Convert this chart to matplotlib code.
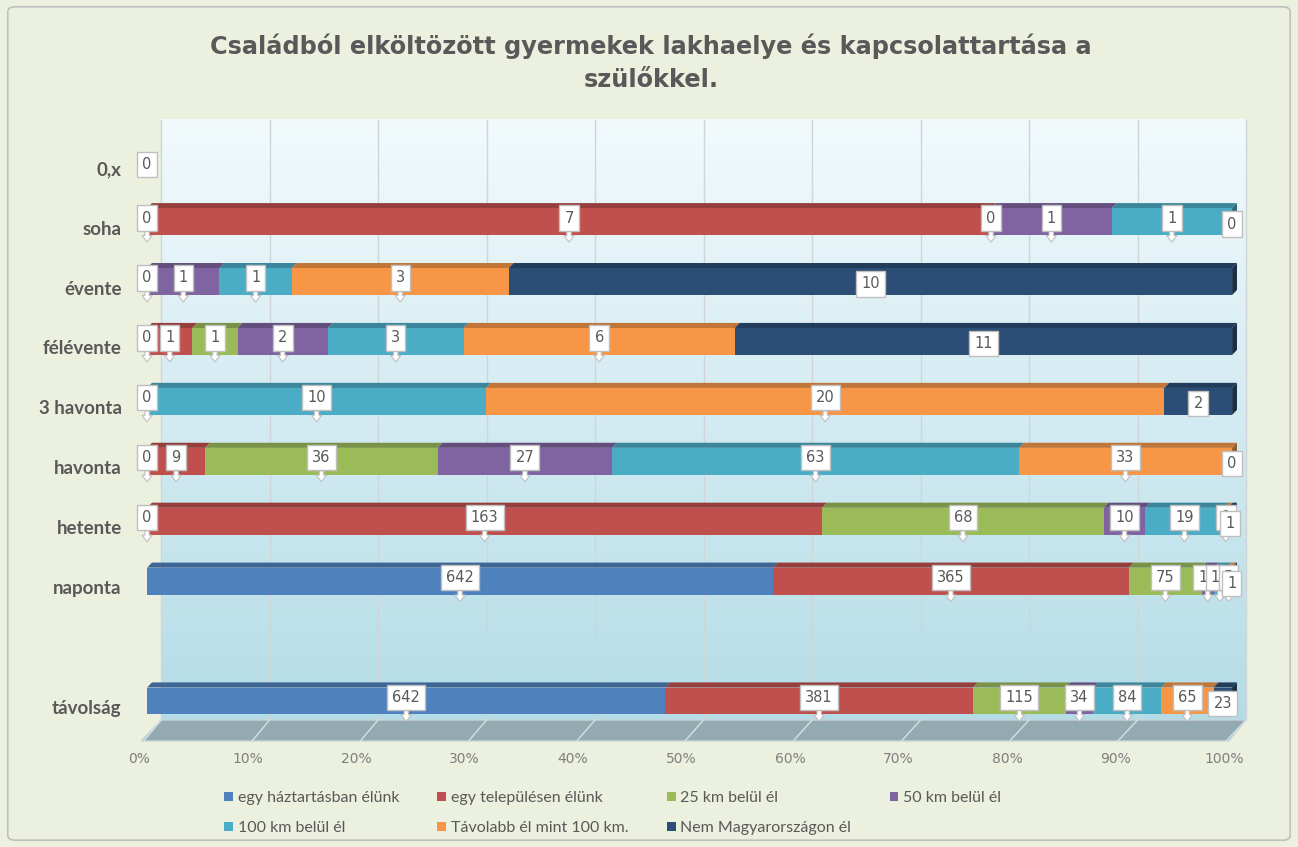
import numpy as np
import matplotlib.pyplot as plt
from matplotlib.patches import Polygon, Patch, FancyBboxPatch
from matplotlib.transforms import ScaledTranslation
from matplotlib.colors import to_rgb

# ---- data ----
categories = ['távolság', '', 'naponta', 'hetente', 'havonta', '3 havonta',
              'félévente', 'évente', 'soha', '0,x']
series = ['egy háztartásban élünk', 'egy településen élünk', '25 km belül él',
          '50 km belül él', '100 km belül él', 'Távolabb él mint 100 km.',
          'Nem Magyarországon él']
nan = np.nan
haztartas = [642, nan, 642, 0, 0, 0, 0, 0, 0, nan]
telepules = [381, nan, 365, 163, 9, nan, 1, nan, 7, nan]
km25 = [115, nan, 75, 68, 36, nan, 1, nan, 0, nan]
km50 = [34, nan, 12, 10, 27, nan, 2, 1, 1, nan]
km100 = [84, nan, 13, 19, 63, 10, 3, 1, 1, nan]
tavolabb = [65, nan, 5, 1, 33, 20, 6, 3, nan, nan]
kulfold = [23, nan, 1, 1, 0, 2, 11, 10, 0, 0]
xticks = np.arange(0, 101, 10)

colors = ['#4F81BD', '#C0504D', '#9BBB59', '#8064A2', '#4BACC6', '#F79646', '#2C4D75']
txt = '#595959'

vals = np.array([haztartas, telepules, km25, km50, km100, tavolabb, kulfold], dtype=float)
totals = np.nansum(vals, axis=0)
pct = np.where(totals > 0, np.nan_to_num(vals) / np.where(totals > 0, totals, 1) * 100, 0)
left = np.vstack([np.zeros(len(categories)), np.cumsum(pct, axis=0)[:-1]])
ypos = np.arange(len(categories))


def darker(c, f=0.75):
    r, g, b = to_rgb(c)
    return (r * f, g * f, b * f)


fig = plt.figure(figsize=(12.98, 8.47), dpi=100)
fig.patch.set_facecolor('#EBF1DE')
fig.patches.append(FancyBboxPatch((0.006, 0.008), 0.988, 0.984, boxstyle='round,pad=0,rounding_size=0.006',
                                  transform=fig.transFigure, fc='none', ec='#BFBFBF', lw=1.2))
ax = fig.add_axes([0.1002, 0.1204, 0.8629, 0.7438])
ax.set_xlim(-1.57, 101.66)
ax.set_ylim(-0.735, 9.78)
ax.set_facecolor('none')
for s in ax.spines.values():
    s.set_visible(False)

# back wall with vertical gradient, gridlines shifted for depth
shift = 1.29
wall_top, wall_bot = 9.70, -0.317
grad = np.linspace(0, 1, 256).reshape(-1, 1)
top_c = np.array(to_rgb('#F2FAFC'))
bot_c = np.array(to_rgb('#B4DCE7'))
img = top_c * (1 - grad[..., None]) + bot_c * grad[..., None]
ax.imshow(img, extent=[shift, 100 + shift, wall_bot, wall_top], aspect='auto', zorder=0)
for x in xticks:
    ax.plot([x + shift, x + shift], [wall_bot, wall_top], color='#D0D5D8', lw=1, zorder=1)

# floor
floor_bot = -0.668
ax.add_patch(Polygon([(shift, wall_bot), (100 + shift, wall_bot), (99.7, floor_bot), (-0.55, floor_bot)],
                     closed=True, fc='#93AAB1', ec='#C9D6DA', lw=1, zorder=1))
for x in xticks:
    ax.plot([x + shift, x - 0.3 - 0.0025 * x], [wall_bot, floor_bot], color='#D5E0E3', lw=1, zorder=1)

# 3D bars
h = 0.45
dx, dy = 0.45, 0.085
for j in range(len(categories)):
    yb = ypos[j] - h / 2
    yt = ypos[j] + h / 2
    end = left[-1, j] + pct[-1, j]
    for i in range(len(series)):
        w = pct[i, j]
        if w <= 0:
            continue
        l = left[i, j]
        ax.add_patch(Polygon([(l, yt), (l + w, yt), (l + w + dx, yt + dy), (l + dx, yt + dy)],
                             closed=True, fc=darker(colors[i], 0.78), ec='none', zorder=3))
        ax.barh(ypos[j], w, left=l, height=h, color=colors[i], edgecolor='none', zorder=3)
    if end > 0:
        last = [i for i in range(len(series)) if pct[i, j] > 0][-1]
        ax.add_patch(Polygon([(end, yb), (end, yt), (end + dx, yt + dy), (end + dx, yb + dy)],
                             closed=True, fc=darker(colors[last], 0.6), ec='none', zorder=3))

# data labels
lab_font = ['Liberation Sans Narrow', 'DejaVu Sans']
for i in range(len(series)):
    for j in range(len(categories)):
        v = vals[i, j]
        if np.isnan(v):
            continue
        xc = left[i, j] + pct[i, j] / 2
        if i == len(series) - 1:
            ax.text(xc, ypos[j] - 0.04, '%d' % v, ha='center', va='center', fontsize=10.5,
                    family=lab_font, color=txt, zorder=6,
                    bbox=dict(boxstyle='square,pad=0.35', fc='white', ec='#BFBFBF', lw=1))
        else:
            ax.annotate('%d' % v, xy=(xc, ypos[j] - 0.34), xytext=(xc, ypos[j] + 0.06),
                        ha='center', va='center', fontsize=10.5, family=lab_font, color=txt, zorder=6,
                        bbox=dict(boxstyle='square,pad=0.35', fc='white', ec='#BFBFBF', lw=1),
                        arrowprops=dict(arrowstyle='simple,head_width=0.7,head_length=0.45,tail_width=0.3',
                                        fc='white', ec='#BFBFBF', lw=0.8, shrinkA=0, shrinkB=0))

# axes ticks
ax.set_yticks(ypos)
ax.set_yticklabels(categories, fontsize=13.5, fontweight='bold', color=txt, family=['Lato', 'DejaVu Sans'])
ax.set_xticks(xticks)
ax.set_xticklabels(['%d%%' % x for x in xticks], fontsize=10, color='#7F7F7F', family=lab_font)
ax.tick_params(axis='both', length=0)
ax.tick_params(axis='x', pad=5)
ax.tick_params(axis='y', pad=6)
for lab in ax.get_xticklabels():
    lab.set_transform(lab.get_transform() + ScaledTranslation(-0.08, 0, fig.dpi_scale_trans))
for lab in ax.get_yticklabels():
    lab.set_transform(lab.get_transform() + ScaledTranslation(0, -0.06, fig.dpi_scale_trans))

fig.text(0.5015, 0.926, 'Családból elköltözött gyermekek lakhaelye és kapcsolattartása a\nszülőkkel.',
         ha='center', va='center', fontsize=17.3, fontweight='bold', color=txt, linespacing=1.45)

# legend filled row by row (matplotlib fills columns first)
order = [0, 4, 1, 5, 2, 6, 3]
handles = [Patch(facecolor=colors[k], edgecolor='none') for k in order]
fig.legend(handles, [series[k] for k in order], loc='center', bbox_to_anchor=(0.472, 0.04), ncol=4,
           frameon=False, prop={'family': ['Lato', 'DejaVu Sans'], 'size': 11.5}, labelcolor=txt,
           handlelength=0.55, handleheight=0.55, handletextpad=0.3, columnspacing=2.4, labelspacing=1.0)

fig.savefig('out.png', dpi=100, facecolor=fig.get_facecolor())
